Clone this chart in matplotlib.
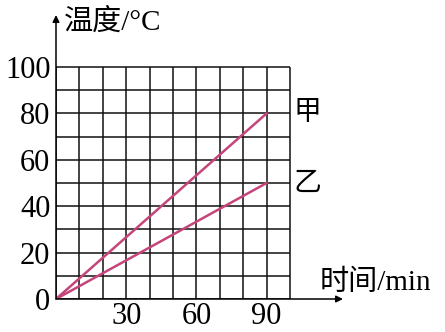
import matplotlib
matplotlib.use("Agg")
import matplotlib.pyplot as plt
import numpy as np

# Data
time_min = [0, 90]
temp_jia = [0, 80]
temp_yi = [0, 50]
x_ticks = [30, 60, 90]
y_ticks = [0, 20, 40, 60, 80, 100]
grid_x = list(range(0, 101, 10))
grid_y = list(range(0, 101, 10))

fam = ['Liberation Serif', 'Noto Sans CJK SC']
plt.rcParams['font.family'] = fam

fig = plt.figure(figsize=(4.45, 3.32), dpi=100)
ax = fig.add_axes([56/445, 33/332, 287/445, 284/332])
ax.set_xlim(0, 122.6)
ax.set_ylim(0, 122.4)

lc = '#111111'
ax.vlines(grid_x, 0, 100, colors=lc, linewidth=1.1, zorder=1)
ax.hlines(grid_y, 0, 100, colors=lc, linewidth=1.1, zorder=1)

line_col = '#C5457A'
ax.plot(time_min, temp_jia, color=line_col, linewidth=1.8, zorder=3)
ax.plot(time_min, temp_yi, color=line_col, linewidth=1.8, zorder=3)

for s in ax.spines.values():
    s.set_visible(False)

# axes arrows
ax.annotate('', xy=(122.6, 0), xytext=(0, 0), xycoords='data',
            arrowprops=dict(arrowstyle='-|>', color='black', lw=1.1,
                            mutation_scale=10, shrinkA=0, shrinkB=0),
            annotation_clip=False)
ax.annotate('', xy=(0, 122.4), xytext=(0, 0), xycoords='data',
            arrowprops=dict(arrowstyle='-|>', color='black', lw=1.1,
                            mutation_scale=10, shrinkA=0, shrinkB=0),
            annotation_clip=False)

ax.set_xticks(x_ticks)
ax.set_xticklabels([str(v) for v in x_ticks])
ax.set_yticks(y_ticks)
ax.set_yticklabels([str(v) for v in y_ticks])
ax.tick_params(length=0, labelsize=22, pad=4)
ax.tick_params(axis='x', pad=2)

ax.text(3.5, 119.5, '温度/°C', fontsize=21, ha='left', va='center', clip_on=False)
ax.text(112.5, 7, '时间/min', fontsize=21, ha='left', va='center', clip_on=False)
ax.text(101.5, 80, '甲', fontsize=20, ha='left', va='center')
ax.text(101.5, 49.5, '乙', fontsize=20, ha='left', va='center')

fig.savefig('out.png', dpi=100)
